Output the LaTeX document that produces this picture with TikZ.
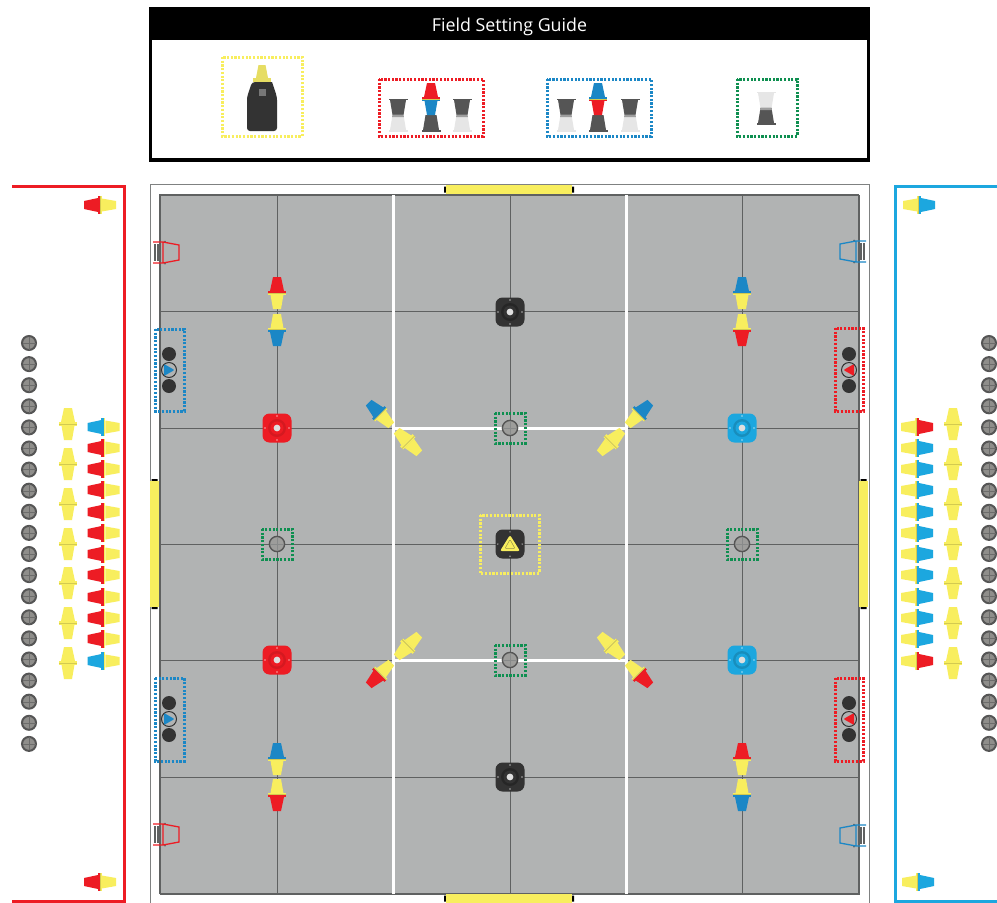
\documentclass[tikz,border=0pt]{standalone}
\usepackage{fontspec}
\setsansfont{Open Sans}
\usepackage{tikz}
\usetikzlibrary{positioning,calc}
\definecolor{teamred}{HTML}{ED1C24}
\definecolor{teamblue}{HTML}{1B87C6}
\definecolor{skyblue}{HTML}{1CA7DF}
\definecolor{coneyellow}{HTML}{F8EE5E}
\definecolor{fieldgray}{HTML}{B1B3B3}
\definecolor{gridgray}{HTML}{5F6161}
\definecolor{basedark}{HTML}{333333}
\definecolor{standdark}{HTML}{555555}
\definecolor{standlight}{HTML}{E6E6E6}
\definecolor{boxgreen}{HTML}{0E8F50}
\definecolor{discgray}{HTML}{8F8E8B}
\tikzset{
    dotbox/.style={draw=#1, line width=3pt, dash pattern=on 2.2pt off 1.5pt},
    frameline/.style={draw=#1, line width=3pt},
    gridline/.style={draw=gridgray, line width=1pt},
    whiteline/.style={draw=white, line width=3pt},
    pics/cone/.style 2 args={code={
        \fill[#1] (-4,-16) -- (4,-16) -- (7,-2) -- (-7,-2) -- cycle;
        \fill[#1] (-8.7,-2.4) rectangle (8.7,0);
        \fill[coneyellow!85!black] (-8.7,0) rectangle (8.7,0.9);
        \fill[#2] (-8.7,0.9) rectangle (8.7,1.8);
        \fill[#2] (-6.5,1.8) -- (6.5,1.8) -- (4,16) -- (-4,16) -- cycle;
    }},
    pics/stand/.style 2 args={code={
        \fill[#1] (-9.5,-16.5) rectangle (9.5,-15);
        \fill[#1] (-8,-15) -- (8,-15) -- (5.5,0) -- (-5.5,0) -- cycle;
        \fill[#2] (-5.5,0) -- (5.5,0) -- (8,15) -- (-8,15) -- cycle;
        \fill[#1!50!#2] (-5.5,-0.5) -- (5.5,-0.5) -- (5.9,2.2) -- (-5.9,2.2) -- cycle;
        \fill[#2] (-9.5,15) rectangle (9.5,16.5);
    }},
    pics/standfoot/.style={code={
        \fill[standdark] (-5.5,0) -- (5.5,0) -- (8,15) -- (-8,15) -- cycle;
        \fill[standdark] (-9.5,15) rectangle (9.5,16.5);
    }},
    pics/fieldbase/.style 2 args={code={
        \fill[#1, rounded corners=7pt] (-14.5,-14.5) rectangle (14.5,14.5);
        \fill[#2] (0,0) circle[radius=9];
        \fill[#1] (0,0) circle[radius=6.5];
        \foreach \a in {0,90,180,270} \fill[white!60!#1] (\a:12) circle[radius=0.8];
    }},
    pics/grounddisc/.style={code={
        \draw[standdark, fill=discgray, line width=2pt] (0,0) circle[radius=7];
        \draw[standdark!60!discgray, line width=0.4pt] (-6.5,0) -- (6.5,0) (0,-6.5) -- (0,6.5);
    }},
    pics/stack/.style 2 args={code={
        \fill[basedark] (0,-16) circle[radius=7];
        \fill[basedark] (0,16) circle[radius=7];
        \draw[basedark, fill=fieldgray, line width=1pt] (0,0) circle[radius=7.5];
        \fill[#1, rounded corners=1pt] (#2*5.5,0) -- (-#2*5,-6) -- (-#2*5,6) -- cycle;
    }},
    pics/gate/.style 2 args={code={
        \draw[gridgray, line width=1.4pt] (#1*2,2) -- (#1*2,19) (#1*5,2) -- (#1*5,19);
        \fill[gridgray] (#1*12,-0.5) circle[radius=1] (#1*12,21.5) circle[radius=1];
        \draw[#2, line width=1.3pt] (0,0) -- (#1*10,0) -- (#1*26,3) -- (#1*26,18) -- (#1*10,21) -- (0,21)
            (#1*10,0) -- (#1*10,21);
    }},
    pics/goalmark/.style={code={
        \fill[black] (-2,-3) rectangle (0,3) (126,-3) rectangle (128,3);
        \fill[coneyellow] (0,-4.5) rectangle (126,4.5);
    }}
}
\begin{document}
\begin{tikzpicture}[x=1pt,y=-1pt]
\useasboundingbox (0,0) rectangle (997,903);
\fill[white] (0,0) rectangle (997,903);

\fill[black] (149,7) rectangle (870,162);
\fill[white] (152,40) rectangle (867,158);
\node[text=white, font=\sffamily\fontsize{17.8}{20}\selectfont] (guidetitle) at (509.5,26.5) {Field Setting Guide};

\draw[dotbox=coneyellow] (222,57) rectangle (302,136);
\draw[dotbox=teamred] (379,79) rectangle (483,136);
\draw[dotbox=teamblue] (547,79) rectangle (651,136);
\draw[dotbox=boxgreen] (737,79) rectangle (797,136);

\fill[coneyellow!85!gray] (258.5,65) -- (265.5,65) -- (268,78) -- (256,78) -- cycle;
\fill[coneyellow!85!gray] (253,78) rectangle (271,82);
\fill[basedark, rounded corners=3pt] (247,131) -- (247,97) -- (252,82) [sharp corners] -- (272,82) [rounded corners=3pt] -- (277,97) -- (277,131) -- cycle;
\fill[standdark!80!white] (258.5,89) rectangle (265.5,96);

\pic at (398,115) {stand={standdark}{standlight}};
\pic at (462,115) {stand={standdark}{standlight}};
\pic at (566,115) {stand={standdark}{standlight}};
\pic at (630,115) {stand={standdark}{standlight}};
\pic at (431,115) {standfoot};
\pic at (598,115) {standfoot};
\pic at (431,99) {cone={teamred}{teamblue}};
\pic at (598,99) {cone={teamblue}{teamred}};
\pic at (766,108) {stand={standlight}{standdark}};

\draw[gridgray!80, line width=1pt] (150,903) |- (869,184) -- (869,903);
\fill[fieldgray] (160,195) rectangle (859,894);
\draw[gridgray, line width=1.2pt] (160,894) -- (160,195) -- (859,195);
\draw[gridgray, line width=2pt] (859,195) -- (859,894) -- (160,894);
\foreach \gx in {277,510,742} \draw[gridline] (\gx,195) -- (\gx,894);
\foreach \gy in {311,428,544,660,777} \draw[gridline] (160,\gy) -- (859,\gy);
\draw[whiteline] (393,195) -- (393,894) (626,195) -- (626,894);
\draw[whiteline] (393,428) -- (626,428) (393,660) -- (626,660);
\draw[gridline] (510,415) -- (510,441) (510,647) -- (510,673);

\pic at (446,189.5) {goalmark};
\pic at (446,898.5) {goalmark};
\pic[rotate=-90] at (154.5,481) {goalmark};
\pic[rotate=-90] at (863.5,481) {goalmark};

\draw[frameline=teamred] (12,186) -- (124,186) -- (124,901) -- (12,901);
\draw[frameline=skyblue] (997,186) -- (895,186) -- (895,901) -- (997,901);

\foreach \gy in {343,364.1,385.2,406.3,427.4,448.5,469.6,490.7,511.8,532.9,554,575.1,596.2,617.3,638.4,659.5,680.6,701.7,722.8,743.9}{
    \pic at (29,\gy) {grounddisc};
    \pic at (989,\gy) {grounddisc};
}
\foreach \gy in {424,464,504,544,583,623,663}{
    \pic at (68,\gy) {cone={coneyellow}{coneyellow}};
    \pic at (953,\gy) {cone={coneyellow}{coneyellow}};
}
\foreach \gy in {448,469,490,512,533,554,575,597,618,639}{
    \pic[rotate=90] at (103.5,\gy) {cone={teamred}{coneyellow}};
    \pic[rotate=-90] at (917,\gy) {cone={skyblue}{coneyellow}};
}
\foreach \gy in {427,661}{
    \pic[rotate=90] at (103.5,\gy) {cone={skyblue}{coneyellow}};
    \pic[rotate=-90] at (917,\gy) {cone={teamred}{coneyellow}};
}
\pic[rotate=90] at (100,205) {cone={teamred}{coneyellow}};
\pic[rotate=90] at (100,882) {cone={teamred}{coneyellow}};
\pic[rotate=-90] at (919,205) {cone={skyblue}{coneyellow}};
\pic[rotate=-90] at (918,882) {cone={skyblue}{coneyellow}};

\pic at (277,293) {cone={teamred}{coneyellow}};
\pic[rotate=180] at (277,330) {cone={teamblue}{coneyellow}};
\pic at (742,293) {cone={teamblue}{coneyellow}};
\pic[rotate=180] at (742,330) {cone={teamred}{coneyellow}};
\pic at (277,759) {cone={teamblue}{coneyellow}};
\pic[rotate=180] at (277,795) {cone={teamred}{coneyellow}};
\pic at (742,759) {cone={teamred}{coneyellow}};
\pic[rotate=180] at (742,795) {cone={teamblue}{coneyellow}};

\pic[rotate=45] at (380,414) {cone={teamblue}{coneyellow}};
\pic[rotate=45] at (408,442) {cone={coneyellow}{coneyellow}};
\pic[rotate=-45] at (639,414) {cone={teamblue}{coneyellow}};
\pic[rotate=-45] at (611,442) {cone={coneyellow}{coneyellow}};
\pic[rotate=135] at (380,674) {cone={teamred}{coneyellow}};
\pic[rotate=135] at (408,646) {cone={coneyellow}{coneyellow}};
\pic[rotate=-135] at (639,674) {cone={teamred}{coneyellow}};
\pic[rotate=-135] at (611,646) {cone={coneyellow}{coneyellow}};

\pic at (277,428) {fieldbase={teamred}{teamred!90!black}};
\pic at (277,660) {fieldbase={teamred}{teamred!90!black}};
\pic at (742,428) {fieldbase={skyblue}{skyblue!85!black}};
\pic at (742,660) {fieldbase={skyblue}{skyblue!85!black}};
\pic at (510,312) {fieldbase={basedark}{basedark!75!black}};
\pic at (510,777) {fieldbase={basedark}{basedark!75!black}};
\foreach \bx/\by in {277/428,277/660,742/428,742/660,510/312,510/777}
    \fill[white!75!gray] (\bx,\by) circle[radius=3.4];

\fill[basedark, rounded corners=7pt] (495.5,529.5) rectangle (524.5,558.5);
\foreach \a in {0,90,180,270} \fill[white!60!black] ($(510,544)+(\a:12.2)$) circle[radius=0.8];
\fill[coneyellow, rounded corners=2pt] (510,535) -- (520,551) -- (500,551) -- cycle;
\draw[basedark!50!coneyellow, line width=0.5pt, rounded corners=1pt] (510,539.5) -- (515,548.5) -- (505,548.5) -- cycle;
\draw[dotbox=coneyellow] (480,515) rectangle (539,573);

\foreach \gx/\gy in {510/428,510/660,277/544,742/544}{
    \draw[dotbox=boxgreen] (\gx-15,\gy-15) rectangle (\gx+15,\gy+15);
    \draw[standdark, fill=discgray!60!fieldgray, line width=1.4pt] (\gx,\gy) circle[radius=7.6];
    \draw[gridgray!50!fieldgray, line width=0.4pt] (\gx-7,\gy) -- (\gx+7,\gy) (\gx,\gy-7) -- (\gx,\gy+7);
}

\pic at (169,370) {stack={teamblue}{1}};
\pic at (169,719) {stack={teamblue}{1}};
\pic at (849,370) {stack={teamred}{-1}};
\pic at (849,719) {stack={teamred}{-1}};
\draw[dotbox=teamblue] (155,329) rectangle (184,411);
\draw[dotbox=teamblue] (155,678) rectangle (184,761);
\draw[dotbox=teamred] (835,328) rectangle (863,411);
\draw[dotbox=teamred] (835,678) rectangle (863,761);

\pic at (153,242) {gate={1}{teamred}};
\pic at (153,824) {gate={1}{teamred}};
\pic at (866,241) {gate={-1}{teamblue}};
\pic at (866,825) {gate={-1}{teamblue}};
\end{tikzpicture}
\end{document}
